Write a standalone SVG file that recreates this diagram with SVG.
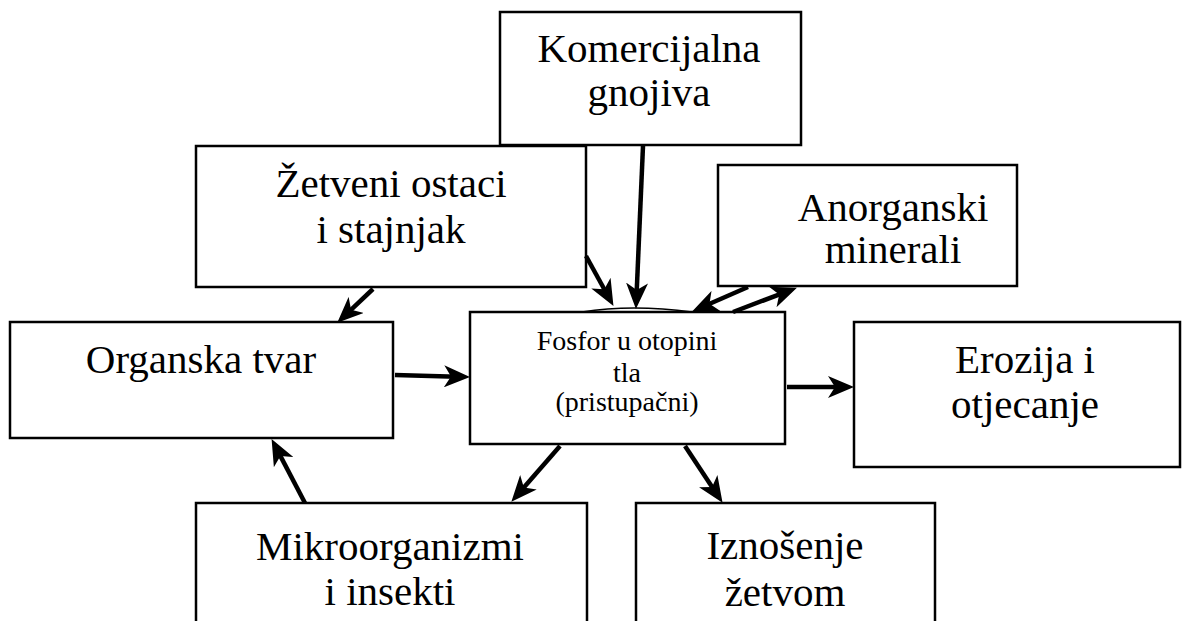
<svg xmlns="http://www.w3.org/2000/svg" width="1190" height="621" viewBox="0 0 1190 621">
<style>
.box{fill:#fff;stroke:#000;stroke-width:2.5}
.t{font-family:"Liberation Serif","Times New Roman",serif;font-size:41px;fill:#000;text-anchor:middle}
.s{font-family:"Liberation Serif","Times New Roman",serif;font-size:28px;fill:#000;text-anchor:middle}
.c{fill:none;stroke:#000;stroke-width:4.5}
</style>
<defs>
<marker id="ah" markerUnits="userSpaceOnUse" viewBox="0 0 26 22" markerWidth="26" markerHeight="22" refX="13" refY="11" orient="auto">
<path d="M0,0 L26,11 L0,22 L7,11 Z" fill="#000"/>
</marker>
</defs>
<rect width="1190" height="621" fill="#fff"/>
<g id="komercijalna">
<rect class="box" x="500" y="12" width="301" height="133"/>
<text class="t" x="649" y="62">Komercijalna</text>
<text class="t" x="649" y="106">gnojiva</text>
</g>
<g id="zetveni">
<rect class="box" x="196" y="146" width="390" height="141"/>
<text class="t" x="391" y="197">Žetveni ostaci</text>
<text class="t" x="391" y="243">i stajnjak</text>
</g>
<g id="anorganski">
<rect class="box" x="718" y="165" width="299" height="121"/>
<text class="t" x="893" y="221">Anorganski</text>
<text class="t" x="893" y="263">minerali</text>
</g>
<g id="organska">
<rect class="box" x="10" y="322" width="383" height="116"/>
<text class="t" x="201" y="373">Organska tvar</text>
</g>
<g id="fosfor">
<rect class="box" x="470" y="312" width="315" height="132"/>
<text class="s" x="627" y="350">Fosfor u otopini</text>
<text class="s" x="627" y="382">tla</text>
<text class="s" x="627" y="411">(pristupačni)</text>
</g>
<g id="erozija">
<rect class="box" x="854" y="322" width="326" height="145"/>
<text class="t" x="1025" y="373">Erozija i</text>
<text class="t" x="1025" y="418">otjecanje</text>
</g>
<g id="mikro">
<rect class="box" x="196" y="503" width="391" height="130"/>
<text class="t" x="390" y="560">Mikroorganizmi</text>
<text class="t" x="390" y="605">i insekti</text>
</g>
<g id="iznosenje">
<rect class="box" x="636" y="503" width="299" height="130"/>
<text class="t" x="785" y="559">Iznošenje</text>
<text class="t" x="785" y="606">žetvom</text>
</g>
<g id="connectors">
<path class="c" d="M373,289 L346.7,313.8" marker-end="url(#ah)"/>
<path class="c" d="M395,375 L457,376.7" marker-end="url(#ah)"/>
<path class="c" d="M586,256 L607.2,294.5" marker-end="url(#ah)"/>
<path class="c" d="M643,146 L636.5,296" marker-end="url(#ah)"/>
<path class="c" d="M748,287 L704,306.2" marker-end="url(#ah)"/>
<path class="c" d="M733,312 L784.8,292.3" marker-end="url(#ah)"/>
<path class="c" d="M787,387 L841,387" marker-end="url(#ah)"/>
<path class="c" d="M560,446 L519.9,492" marker-end="url(#ah)"/>
<path class="c" d="M685,446 L715.4,492" marker-end="url(#ah)"/>
<path class="c" d="M305,503 L277.6,450.6" marker-end="url(#ah)"/>
<path d="M582,312 Q632,304 692,312" fill="none" stroke="#000" stroke-width="1.5"/>
</g>
</svg>
